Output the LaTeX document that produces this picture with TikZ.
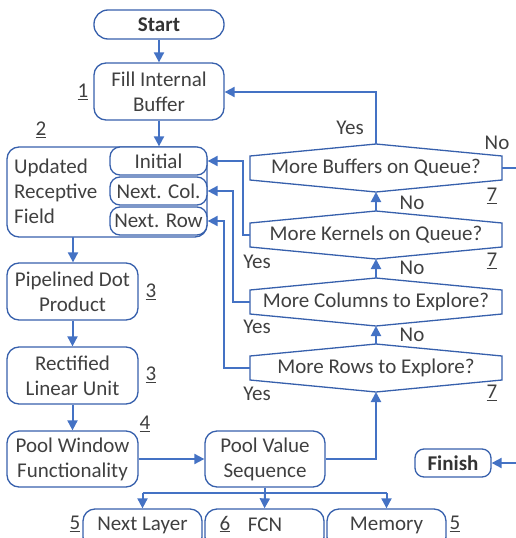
\documentclass[tikz,border=0pt]{standalone}
\usepackage{fontspec}
\setmainfont{Carlito}
\usetikzlibrary{arrows.meta}
\definecolor{flow}{HTML}{4472C4}
\definecolor{edge}{HTML}{3760AC}
\definecolor{ink}{HTML}{404040}
\tikzset{
  box/.style={draw=edge, line width=1.3pt, rounded corners=12pt, align=center, text=ink, inner sep=0pt},
  sub/.style={draw=edge, line width=1.3pt, rounded corners=10pt, align=center, text=ink, inner sep=0pt, fill=white},
  txt/.style={text=ink, inner sep=0pt, align=center},
  link/.style={draw=flow, line width=2pt},
  arr/.style={link, -{Triangle[length=10pt,width=10pt]}},
  hexa/.style={draw=edge, line width=1.3pt, line join=miter},
}
% decision hexagon: name, centre x, centre y
\newcommand{\decision}[4]{%
  \coordinate (#1-t) at (#2,#3-24);
  \coordinate (#1-b) at (#2,#3+24);
  \coordinate (#1-l) at (#2-126,#3);
  \coordinate (#1-r) at (#2+126,#3);
  \path[hexa] (#2-126,#3-12) -- (#1-t) -- (#2+126,#3-12) -- (#2+126,#3+12)
     -- (#1-b) -- (#2-126,#3+12) -- cycle;
  \node[txt] (#1) at (#2,#3) {#4};
}
\begin{document}
\begin{tikzpicture}[x=1pt,y=-1pt,font=\fontsize{21}{25}\selectfont]
\useasboundingbox (0,0) rectangle (516,538);
\clip (0,0) rectangle (516,538);

% main column
\node[box, rounded corners=14pt, minimum width=130pt, minimum height=29pt, text=black!80, font=\fontsize{21}{25}\selectfont\bfseries] (start) at (159,24.5) {Start};
\node[box, minimum width=130pt, minimum height=57pt] (fill) at (159,91.5) {Fill Internal\\Buffer};

\node[box, minimum width=200pt, minimum height=90pt] (field) at (107,192) {};
\node[txt, anchor=west, align=left] (fieldtxt) at (14,191) {Updated\\Receptive\\Field};
\node[sub, minimum width=97pt, minimum height=28pt] (initial) at (158.5,161) {Initial};
\node[sub, minimum width=97pt, minimum height=28pt] (nextcol) at (158.5,191) {Next. Col.};
\node[sub, minimum width=97pt, minimum height=28pt] (nextrow) at (158.5,221) {Next. Row};

\node[box, minimum width=131pt, minimum height=57pt] (dot) at (72.5,291.5) {Pipelined Dot\\Product};
\node[box, minimum width=131pt, minimum height=57pt] (relu) at (72.5,375.5) {Rectified\\Linear Unit};
\node[box, minimum width=131pt, minimum height=56pt] (pool) at (72.5,459) {Pool Window\\Functionality};
\node[box, minimum width=120pt, minimum height=56pt] (seq) at (265,459) {Pool Value\\Sequence};
\node[box, rounded corners=9pt, minimum width=76pt, minimum height=28pt, text=black!80, font=\fontsize{21}{25}\selectfont\bfseries] (finish) at (453,463) {Finish};

% outputs
\node[box, minimum width=119pt, minimum height=40pt] (layer) at (142.5,529) {};
\node[txt] (layertxt) at (142.5,525) {Next Layer};
\node[box, minimum width=119pt, minimum height=40pt] (fcn) at (264.5,529) {};
\node[txt] (fcntxt) at (265,525) {FCN};
\node[box, minimum width=119pt, minimum height=40pt] (mem) at (386.5,529) {};
\node[txt] (memtxt) at (386.5,525) {Memory};

% decisions
\decision{buf}{376}{168}{More Buffers on Queue?}
\decision{ker}{376}{235}{More Kernels on Queue?}
\decision{col}{376}{302}{More Columns to Explore?}
\decision{row}{376}{368}{More Rows to Explore?}

% connectors
\draw[arr] (start) -- (fill);
\draw[arr] (fill) -- (fill|-field.north);
\draw[arr] (73,237) -- (dot.north -| 73,0);
\draw[arr] (dot) -- (relu);
\draw[arr] (relu) -- (pool);
\draw[arr] (pool) -- (seq);
\draw[arr] (seq.east) -| (row-b);
\draw[arr] (row-t) -- (col-b);
\draw[arr] (col-t) -- (ker-b);
\draw[arr] (ker-t) -- (buf-b);
\draw[arr] (buf-t) |- (fill.east |- 0,92);
\draw[arr] (ker-l) -- (243,235) |- (initial.east);
\draw[arr] (col-l) -- (233,302) |- (nextcol.east);
\draw[arr] (row-l) -- (224,368) |- (nextrow.east);
\draw[link] (buf-r) -- (520,168);
\draw[arr] (520,463) -- (finish.east);
\draw[link] (seq.south) -- (265,493);
\draw[link] (142.5,493) -- (386.5,493);
\draw[arr] (142.5,493) -- (layer.north);
\draw[arr] (265,493) -- (fcn.north);
\draw[arr] (386.5,493) -- (mem.north);

% branch labels
\node[txt] (y1) at (350,128) {Yes};
\node[txt] (n1) at (497,143) {No};
\node[txt] (n2) at (412,203) {No};
\node[txt] (y2) at (257,262) {Yes};
\node[txt] (n3) at (412,268) {No};
\node[txt] (y3) at (257,327) {Yes};
\node[txt] (n4) at (412,335) {No};
\node[txt] (y4) at (257,394) {Yes};

% step numbers
\node[txt] (s1) at (83,92) {\underline{1}};
\node[txt] (s2) at (41,130) {\underline{2}};
\node[txt] (s3a) at (151,292) {\underline{3}};
\node[txt] (s3b) at (151,375) {\underline{3}};
\node[txt] (s4) at (145,424) {\underline{4}};
\node[txt] (s5a) at (75,524) {\underline{5}};
\node[txt] (s6) at (225,524) {\underline{6}};
\node[txt] (s5b) at (455,524) {\underline{5}};
\node[txt] (s7a) at (492,196) {\underline{7}};
\node[txt] (s7b) at (492,261) {\underline{7}};
\node[txt] (s7c) at (492,393) {\underline{7}};
\end{tikzpicture}
\end{document}
